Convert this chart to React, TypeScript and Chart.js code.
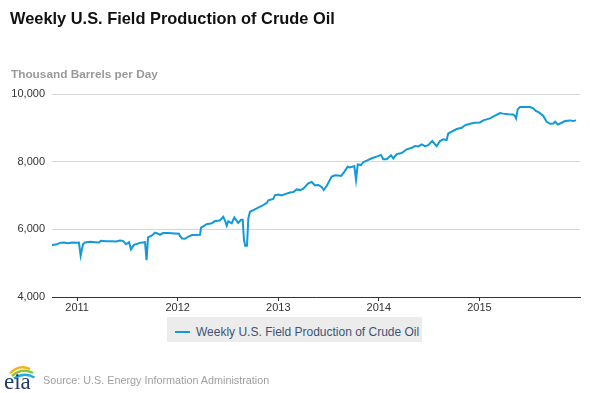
import React, { useEffect, useRef } from "react";
import { Chart, registerables } from "chart.js";

Chart.register(...registerables);

// Week dates expressed as decimal years
const weekYears: number[] = [
  2010.750, 2010.790, 2010.830, 2010.869, 2010.909, 2010.949, 2010.989, 2011.018, 2011.035, 2011.058,
  2011.078, 2011.128, 2011.178, 2011.217, 2011.237, 2011.287, 2011.347, 2011.386, 2011.426, 2011.456,
  2011.486, 2011.516, 2011.535, 2011.565, 2011.625, 2011.675, 2011.690, 2011.705, 2011.744, 2011.774,
  2011.804, 2011.824, 2011.854, 2011.903, 2011.973, 2012.013, 2012.023, 2012.043, 2012.072, 2012.102,
  2012.142, 2012.222, 2012.232, 2012.254, 2012.288, 2012.338, 2012.371, 2012.420, 2012.453, 2012.470,
  2012.487, 2012.503, 2012.537, 2012.563, 2012.587, 2012.602, 2012.629, 2012.646, 2012.659, 2012.672,
  2012.689, 2012.702, 2012.719, 2012.752, 2012.801, 2012.835, 2012.885, 2012.901, 2012.950, 2012.967,
  2013.000, 2013.034, 2013.067, 2013.117, 2013.150, 2013.183, 2013.217, 2013.249, 2013.298, 2013.332,
  2013.365, 2013.398, 2013.432, 2013.452, 2013.481, 2013.531, 2013.564, 2013.597, 2013.624, 2013.656,
  2013.690, 2013.713, 2013.756, 2013.773, 2013.790, 2013.822, 2013.845, 2013.879, 2013.929, 2013.978,
  2014.021, 2014.044, 2014.078, 2014.121, 2014.144, 2014.177, 2014.227, 2014.277, 2014.327, 2014.359,
  2014.392, 2014.426, 2014.459, 2014.491, 2014.531, 2014.558, 2014.575, 2014.608, 2014.641, 2014.674,
  2014.690, 2014.724, 2014.774, 2014.824, 2014.856, 2014.906, 2014.956, 2015.006, 2015.038, 2015.072,
  2015.105, 2015.155, 2015.205, 2015.237, 2015.287, 2015.337, 2015.354, 2015.364, 2015.381, 2015.403,
  2015.453, 2015.503, 2015.536, 2015.560, 2015.592, 2015.635, 2015.669, 2015.702, 2015.735, 2015.752,
  2015.779, 2015.818, 2015.851, 2015.901, 2015.933, 2015.960,
];

// Thousand barrels per day
const production: number[] = [
  5540, 5550, 5600, 5610, 5590, 5610, 5600, 5610, 5220, 5560,
  5610, 5630, 5620, 5610, 5660, 5650, 5650, 5640, 5670, 5660,
  5560, 5620, 5410, 5540, 5600, 5620, 5090, 5760, 5820, 5900,
  5870, 5840, 5890, 5890, 5880, 5870, 5800, 5730, 5720, 5780,
  5830, 5840, 6050, 6090, 6150, 6180, 6245, 6260, 6370, 6260,
  6110, 6240, 6180, 6350, 6250, 6190, 6280, 6280, 5685, 5510,
  5520, 6325, 6520, 6570, 6640, 6690, 6780, 6860, 6900, 7010,
  7030, 7000, 7040, 7090, 7100, 7180, 7160, 7200, 7360, 7400,
  7300, 7310, 7250, 7160, 7280, 7560, 7600, 7590, 7580, 7700,
  7850, 7830, 7870, 7460, 7920, 7900, 7990, 8030, 8100, 8150,
  8200, 8070, 8070, 8190, 8090, 8225, 8255, 8365, 8410, 8460,
  8450, 8510, 8460, 8490, 8610, 8510, 8460, 8610, 8660, 8640,
  8835, 8885, 8965, 9000, 9075, 9120, 9150, 9160, 9220, 9250,
  9280, 9360, 9435, 9420, 9400, 9395, 9350, 9280, 9545, 9615,
  9615, 9615, 9575, 9500, 9455, 9350, 9180, 9120, 9130, 9180,
  9100, 9150, 9200, 9220, 9200, 9220,
];

const xTickYears: number[] = [2011, 2012, 2013, 2014, 2015];
const yTickValues: number[] = [4000, 6000, 8000, 10000];

const seriesName = "Weekly U.S. Field Production of Crude Oil";
const chartTitle = "Weekly U.S. Field Production of Crude Oil";
const unitLabel = "Thousand Barrels per Day";
const sourceLabel = "Source: U.S. Energy Information Administration";

const LINE_COLOR = "#129ad8";
const FONT = "'Liberation Sans', Arial, Helvetica, sans-serif";

export default function App() {
  const canvasRef = useRef<HTMLCanvasElement | null>(null);

  useEffect(() => {
    document.body.style.margin = "0";
    const canvas = canvasRef.current;
    if (!canvas) return;
    const points = weekYears.map((x, i) => ({ x, y: production[i] }));
    const chart = new Chart(canvas, {
      type: "line",
      data: {
        datasets: [
          {
            label: seriesName,
            data: points,
            borderColor: LINE_COLOR,
            backgroundColor: LINE_COLOR,
            borderWidth: 2,
            pointRadius: 0,
            tension: 0,
            fill: false,
          },
        ],
      },
      options: {
        animation: false,
        responsive: false,
        devicePixelRatio: 1,
        layout: { padding: { top: 94, right: 10, bottom: 76, left: 0 } },
        plugins: {
          legend: { display: false },
          title: { display: false },
          tooltip: { enabled: false },
        },
        scales: {
          x: {
            type: "linear",
            min: 2010.75,
            max: 2016,
            afterBuildTicks: (scale: any) => {
              scale.ticks = xTickYears.map((v) => ({ value: v }));
            },
            afterFit: (scale: any) => {
              scale.height = 20;
            },
            grid: {
              drawOnChartArea: false,
              drawTicks: true,
              tickLength: 4,
              color: "#333333",
            },
            border: { display: true, color: "#333333", width: 1 },
            ticks: {
              padding: 0,
              color: "#333333",
              font: { family: FONT, size: 11 },
              maxRotation: 0,
              autoSkip: false,
              callback: (v: any) => String(v),
            },
          },
          y: {
            type: "linear",
            min: 4000,
            max: 10000,
            afterBuildTicks: (scale: any) => {
              scale.ticks = yTickValues.map((v) => ({ value: v }));
            },
            afterFit: (scale: any) => {
              scale.width = 52;
            },
            grid: { color: "#d8d8d8", drawTicks: false, lineWidth: 1 },
            border: { display: false },
            ticks: {
              padding: 7,
              color: "#333333",
              font: { family: FONT, size: 11 },
              callback: (v: any) => Number(v).toLocaleString("en-US"),
            },
          },
        },
      },
    });
    return () => chart.destroy();
  }, []);

  const abs = (o: React.CSSProperties): React.CSSProperties => ({
    position: "absolute",
    whiteSpace: "nowrap",
    fontFamily: FONT,
    margin: 0,
    ...o,
  });

  return (
    <div style={{ position: "relative", width: 590, height: 393, overflow: "hidden", background: "#ffffff" }}>
      <canvas ref={canvasRef} width={590} height={393} style={{ position: "absolute", left: 0, top: 0, width: 590, height: 393 }} />
      <div style={abs({ left: 10, top: 10.1, fontSize: 16.4, lineHeight: "16.4px", fontWeight: "bold", color: "#111111" })}>{chartTitle}</div>
      <div style={abs({ left: 11, top: 69.2, fontSize: 11.8, lineHeight: "11.8px", fontWeight: "bold", color: "#999999" })}>{unitLabel}</div>
      <div style={abs({ left: 167, top: 317, width: 255, height: 25, background: "#ececec" })} />
      <div style={abs({ left: 175, top: 330.5, width: 15, height: 2.5, background: LINE_COLOR })} />
      <div style={abs({ left: 196, top: 325.5, fontSize: 12, lineHeight: "12px", color: "#3e5575" })}>{seriesName}</div>
      <svg style={{ position: "absolute", left: 3, top: 363 }} width={34} height={28} viewBox="0 0 34 28">
        <path d="M7 10.5 Q16 1 27 6" stroke="#f5b21b" strokeWidth={2.4} fill="none" />
        <path d="M9 13 Q19 4.5 30 10" stroke="#8cc63f" strokeWidth={2.4} fill="none" />
        <path d="M11 15.5 Q21 8.5 31.5 14.5" stroke="#27a9e1" strokeWidth={2.4} fill="none" />
        <text x={1} y={25.5} fontFamily="'Liberation Serif', 'DejaVu Serif', serif" fontSize={23} fill="#1f3b6e">eia</text>
      </svg>
      <div style={abs({ left: 43, top: 375.2, fontSize: 10.8, lineHeight: "10.8px", color: "#a0a0a0" })}>{sourceLabel}</div>
    </div>
  );
}
